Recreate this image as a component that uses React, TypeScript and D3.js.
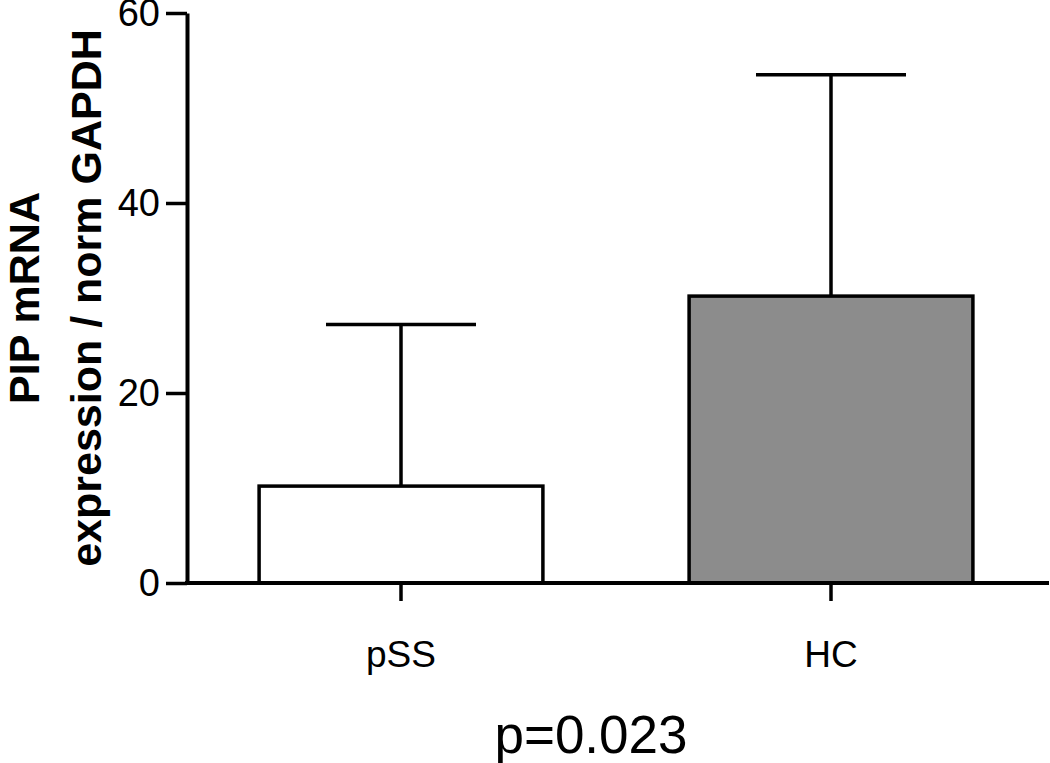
import React, { useEffect, useRef } from 'react';
import * as d3 from 'd3';

const groups = ['pSS', 'HC'];
const means = [10.2, 30.2];
const errTop = [27.2, 53.5];
const fills = ['#ffffff', '#8c8c8c'];
const yTicks = [0, 20, 40, 60];
const pLabel = 'p=0.023';

const FONT = '"Liberation Sans", Arial, Helvetica, sans-serif';

const App = () => {
  const svgRef = useRef<SVGSVGElement | null>(null);

  useEffect(() => {
    document.body.style.margin = '0';
    const width = 1050, height = 763;
    const x0 = 187, x1 = 1049, yBase = 583, yTop = 13;

    const svg = d3.select(svgRef.current)
      .attr('width', width)
      .attr('height', height);
    svg.selectAll('*').remove();

    const x = d3.scaleBand<string>()
      .domain(groups)
      .range([186, 1046])
      .paddingInner(0.34)
      .paddingOuter(0.17);

    const y = d3.scaleLinear()
      .domain([0, 60])
      .range([yBase, yTop]);

    // error bars (upper only) behind bars
    const err = svg.append('g');
    groups.forEach((g, i) => {
      const cx = x(g)! + x.bandwidth() / 2;
      err.append('line')
        .attr('x1', cx).attr('x2', cx)
        .attr('y1', y(means[i])).attr('y2', y(errTop[i]))
        .attr('stroke', '#000').attr('stroke-width', 3.5);
      err.append('line')
        .attr('x1', cx - 75).attr('x2', cx + 75)
        .attr('y1', y(errTop[i])).attr('y2', y(errTop[i]))
        .attr('stroke', '#000').attr('stroke-width', 3.5);
    });

    // bars
    svg.append('g')
      .selectAll('rect')
      .data(groups)
      .join('rect')
      .attr('x', d => x(d)!)
      .attr('y', (d, i) => y(means[i]))
      .attr('width', x.bandwidth())
      .attr('height', (d, i) => y(0) - y(means[i]))
      .attr('fill', (d, i) => fills[i])
      .attr('stroke', '#000')
      .attr('stroke-width', 3.5);

    // y axis
    const yAxis = svg.append('g')
      .attr('transform', `translate(${x0},0)`)
      .call(d3.axisLeft(y).tickValues(yTicks).tickSize(21).tickPadding(6).tickSizeOuter(0));
    yAxis.select('.domain').attr('stroke-width', 4);
    yAxis.selectAll('.tick line').attr('stroke-width', 3.5);
    yAxis.selectAll('text')
      .style('font-family', FONT)
      .style('font-size', '38px')
      .attr('fill', '#000');

    // x axis
    const xAxis = svg.append('g')
      .attr('transform', `translate(0,${yBase})`)
      .call(d3.axisBottom(x).tickSize(18).tickPadding(0).tickSizeOuter(0));
    xAxis.select('.domain').attr('stroke-width', 4).attr('d', `M${x0 - 2},0H${x1}`);
    xAxis.selectAll('.tick line').attr('stroke-width', 3.5);
    xAxis.selectAll('text')
      .attr('y', 84)
      .attr('dy', 0)
      .style('font-family', FONT)
      .style('font-size', '37px')
      .attr('fill', '#000');

    // y title
    const title = svg.append('text')
      .attr('transform', `translate(0,298) rotate(-90)`)
      .attr('text-anchor', 'middle')
      .style('font-family', FONT)
      .style('font-weight', 'bold')
      .style('font-size', '43px')
      .attr('fill', '#000');
    title.append('tspan').attr('x', 0).attr('y', 39).text('PIP mRNA');
    title.append('tspan').attr('x', 0).attr('y', 101).text('expression / norm GAPDH');

    // p-value
    svg.append('text')
      .attr('x', 591)
      .attr('y', 753)
      .attr('text-anchor', 'middle')
      .style('font-family', FONT)
      .style('font-size', '53px')
      .attr('fill', '#000')
      .text(pLabel);
  }, []);

  return <svg ref={svgRef} style={{ display: 'block' }}></svg>;
};

export default App;
